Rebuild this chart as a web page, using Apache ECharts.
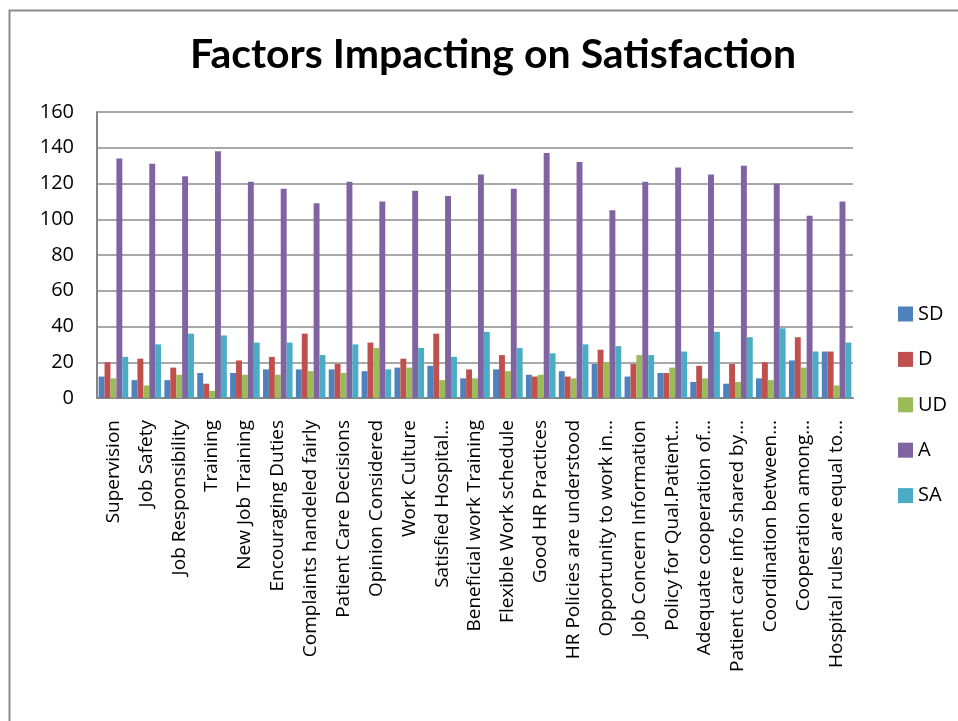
<!DOCTYPE html>
<html>
<head>
<meta charset="utf-8">
<script src="https://cdn.jsdelivr.net/npm/echarts@6/dist/echarts.min.js"></script>
<style>
html,body{margin:0;padding:0;background:#fff;}
#chart{width:958px;height:721px;}
</style>
</head>
<body>
<div id="chart"></div>
<script>
const categories = [
  "Supervision", "Job Safety", "Job Responsibility", "Training", "New Job Training",
  "Encouraging Duties", "Complaints handeled fairly", "Patient Care Decisions",
  "Opinion Considered", "Work Culture", "Satisfied Hospital…", "Beneficial work Training",
  "Flexible Work schedule", "Good HR Practices", "HR Policies are understood",
  "Opportunity to work in…", "Job Concern Information", "Policy for Qual.Patient…",
  "Adequate cooperation of…", "Patient care info shared by…", "Coordination between…",
  "Cooperation among…", "Hospital rules are equal to…"
];
const seriesNames = ["SD", "D", "UD", "A", "SA"];
const sdValues = [12,10,10,14,14,16,16,16,15,17,18,11,16,13,15,19,12,14,9,8,11,21,26];
const dValues  = [20,22,17,8,21,23,36,19,31,22,36,16,24,12,12,27,19,14,18,19,20,34,26];
const udValues = [11,7,13,4,13,13,15,14,28,17,10,11,15,13,11,20,24,17,11,9,10,17,7];
const aValues  = [134,131,124,138,121,117,109,121,110,116,113,125,117,137,132,105,121,129,125,130,120,102,110];
const saValues = [23,30,36,35,31,31,24,30,16,28,23,37,28,25,30,29,24,26,37,34,39,26,31];
const yTicks = { min: 0, max: 160, interval: 20 };
const titleText = "Factors Impacting on Satisfaction";

const colors = ["#4F81BD", "#C0504D", "#9BBB59", "#8064A2", "#4BACC6"];
const allValues = [sdValues, dValues, udValues, aValues, saValues];

const chart = echarts.init(document.getElementById('chart'), null, { renderer: 'canvas' });
const labelFont = "'Open Sans', 'DejaVu Sans', sans-serif";

chart.setOption({
  animation: false,
  backgroundColor: '#ffffff',
  color: colors,
  title: {
    text: titleText,
    left: 488,
    top: 29,
    textAlign: 'center',
    textStyle: { fontFamily: "Lato, 'Open Sans', sans-serif", fontWeight: 'bold', fontSize: 41, color: '#000' }
  },
  graphic: [{
    type: 'rect',
    left: 7, top: 8,
    shape: { width: 1000, height: 800 },
    style: { fill: 'none', stroke: '#8c8c8c', lineWidth: 2 },
    silent: true
  }],
  legend: {
    orient: 'vertical',
    left: 893,
    top: 299,
    itemWidth: 15,
    itemHeight: 15,
    itemGap: 25.4,
    icon: 'rect',
    data: seriesNames,
    textStyle: { fontFamily: labelFont, fontSize: 20, color: '#000' }
  },
  grid: { left: 97, right: 105, top: 112, bottom: 323, containLabel: false },
  xAxis: {
    type: 'category',
    data: categories,
    axisTick: { show: false },
    axisLine: { show: true, lineStyle: { color: '#868686', width: 2 } },
    axisLabel: {
      interval: 0, rotate: 90, margin: 22,
      fontFamily: labelFont, fontSize: 19, color: '#000'
    },
    splitLine: { show: false }
  },
  yAxis: {
    type: 'value',
    min: yTicks.min, max: yTicks.max, interval: yTicks.interval,
    axisLine: { show: true, lineStyle: { color: '#868686', width: 2 } },
    axisTick: { show: false },
    axisLabel: { margin: 23, fontFamily: labelFont, fontSize: 20, color: '#000' },
    splitLine: { show: true, lineStyle: { color: '#8c8c8c', width: 1.5 } }
  },
  series: seriesNames.map((name, i) => ({
    name: name,
    type: 'bar',
    data: allValues[i],
    barGap: '0%',
    barCategoryGap: '10%',
    itemStyle: { color: colors[i] }
  }))
});
</script>
</body>
</html>
